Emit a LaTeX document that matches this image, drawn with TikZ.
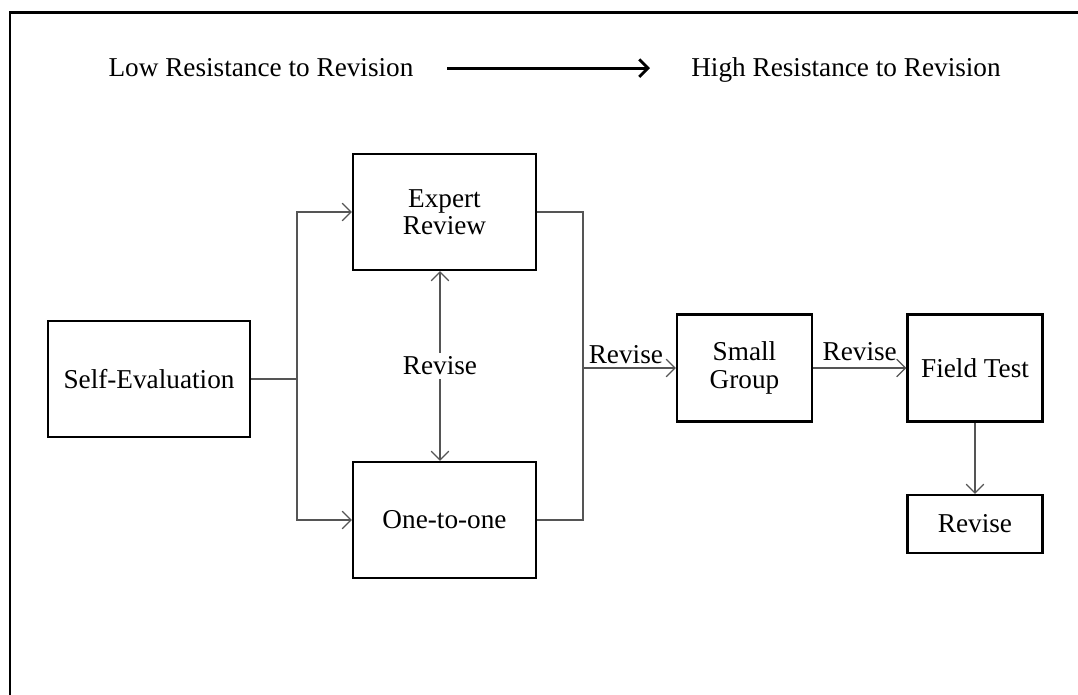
\documentclass[tikz,border=0pt]{standalone}
\usepackage{fontspec}
\setmainfont{Liberation Serif}
\usepackage{tikz}
\usetikzlibrary{arrows.meta,positioning,calc}
\usepackage{xcolor}
\definecolor{linegray}{RGB}{85,85,85}

\begin{document}
\begin{tikzpicture}[x=0.02cm, y=-0.02cm,
        >={Straight Barb[length=5pt, width=10pt]},
        box/.style={rectangle, draw=black, line width=1.4pt, minimum width=3.66cm, minimum height=2.32cm,
                    align=center, inner sep=2pt, font=\fontsize{15.5}{15.5}\selectfont},
        smallbox/.style={box, minimum width=2.7cm, minimum height=2.14cm},
        lbl/.style={font=\fontsize{15.5}{15.5}\selectfont, inner sep=2pt},
        link/.style={draw=linegray, line width=0.7pt}
      ]
        \useasboundingbox (0,0) rectangle (1078,695);
        \draw[line width=1.7pt] (10,695) -- (10,13) -- (1078,13);

        \node[lbl, anchor=base] (low) at (261, 77) {Low Resistance to Revision};
        \node[lbl, anchor=base] (high) at (846, 77) {High Resistance to Revision};
        \draw[->, line width=1.6pt, shorten <=0.6cm, shorten >=0.75cm] (low.east) -- (low.east -| high.west);

        \node[box, minimum width=4.04cm] (selfeval) at (149, 379) {Self-Evaluation};
        \node[box] (expert) at (444.5, 212) {Expert\\Review};
        \node[box] (onetoone) at (444.5, 520) {One-to-one};
        \node[smallbox] (smallgrp) at (744.5, 368) {Small\\Group};
        \node[smallbox] (fieldtest) at (975, 368) {Field Test};
        \node[smallbox, minimum height=1.16cm] (revise) at (975, 524) {Revise};
        \node[lbl] (midrev) at (440, 366) {Revise};

        \coordinate (split) at (297, 379);
        \coordinate (join) at (583, 368);

        \draw[link] (selfeval.east) -- (split);
        \draw[link, ->] (split) |- (expert.west);
        \draw[link, ->] (split) |- (onetoone.west);
        \draw[link] (expert.east) -| (join) |- (onetoone.east);
        \draw[link, ->] (join) -- node[lbl, above, xshift=-2pt] {Revise} (smallgrp.west);
        \draw[link, ->] (midrev) -- (midrev |- expert.south);
        \draw[link, ->] (midrev) -- (midrev |- onetoone.north);
        \draw[link, ->] (smallgrp.east) -- node[lbl, above=2pt] {Revise} (fieldtest.west);
        \draw[link, ->] (fieldtest) -- (revise);
      \end{tikzpicture}
\end{document}
